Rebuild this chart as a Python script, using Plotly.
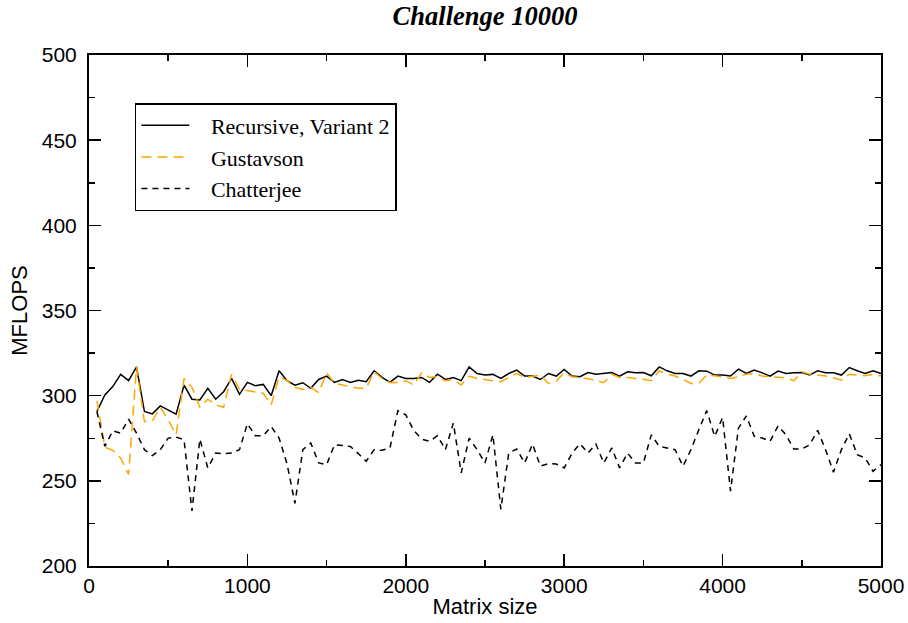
import plotly.graph_objects as go

sizes = list(range(50, 5001, 50))

recursive_v2 = [
    290.7, 300.4, 305.3, 312.5, 308.8, 316.9, 290.7, 289.3, 294.0, 291.6,
    289.1, 306.2, 297.9, 297.5, 304.3, 297.9, 302.3, 310.1, 300.8, 307.8,
    305.8, 306.6, 300.0, 314.6, 308.8, 306.2, 307.6, 304.3, 309.5, 311.5,
    307.8, 309.5, 307.8, 309.1, 308.2, 314.6, 310.7, 307.8, 311.5, 310.1,
    310.1, 310.7, 307.8, 312.6, 309.5, 310.7, 308.8, 316.9, 313.0, 312.1,
    312.5, 310.1, 313.0, 315.0, 311.5, 311.5, 309.5, 313.0, 311.5, 315.4,
    311.5, 311.1, 313.6, 312.6, 313.0, 313.6, 311.5, 314.0, 313.4, 313.6,
    311.7, 316.9, 314.6, 313.0, 313.0, 311.5, 314.6, 314.4, 312.1, 312.1,
    311.5, 315.6, 313.0, 315.0, 313.4, 311.5, 314.4, 313.0, 313.4, 313.6,
    312.1, 314.6, 313.4, 313.4, 312.1, 316.5, 314.6, 313.0, 314.6, 313.0,
]

gustavson = [
    297.0, 269.8, 267.9, 263.4, 253.7, 316.9, 284.8, 285.4, 293.2, 285.8,
    277.0, 310.1, 304.9, 293.2, 297.9, 294.6, 293.2, 312.6, 303.7, 302.9,
    301.8, 301.4, 294.6, 311.0, 308.8, 304.9, 303.7, 304.9, 301.8, 313.4,
    307.2, 306.2, 305.3, 304.3, 304.3, 314.0, 310.1, 307.8, 307.8, 308.8,
    306.2, 313.4, 310.7, 311.1, 308.8, 309.5, 306.2, 311.5, 310.1, 309.5,
    309.1, 308.2, 310.7, 313.0, 310.7, 311.5, 312.1, 307.2, 308.6, 313.4,
    311.1, 310.7, 310.1, 309.1, 307.6, 312.6, 310.7, 310.7, 310.1, 309.7,
    308.8, 314.6, 312.6, 311.5, 309.5, 307.2, 307.2, 312.1, 311.7, 310.7,
    310.1, 311.1, 312.6, 313.0, 311.5, 311.1, 310.7, 310.5, 308.8, 314.0,
    312.6, 312.1, 311.5, 310.5, 309.1, 312.6, 312.1, 311.7, 312.6, 311.5,
]

chatterjee = [
    290.7, 270.2, 279.4, 278.0, 286.2, 278.0, 268.3, 264.8, 268.3, 275.1,
    275.7, 274.1, 232.3, 274.5, 257.6, 266.3, 266.0, 266.3, 268.3, 283.5,
    276.5, 276.5, 281.9, 275.1, 260.0, 236.8, 268.3, 272.2, 260.5, 259.5,
    271.2, 270.6, 270.2, 266.0, 261.5, 268.3, 267.9, 269.3, 291.2, 288.7,
    279.6, 274.5, 273.2, 276.5, 268.3, 283.9, 254.7, 275.1, 268.3, 260.5,
    277.0, 233.3, 266.3, 268.7, 260.5, 271.6, 258.6, 260.1, 259.9, 257.6,
    266.3, 271.8, 266.3, 271.6, 260.5, 269.3, 257.6, 266.3, 260.5, 260.5,
    277.0, 270.2, 269.3, 268.3, 258.6, 268.3, 280.0, 291.2, 276.1, 287.2,
    244.0, 280.9, 288.1, 276.1, 275.1, 273.2, 282.3, 277.0, 268.7, 268.7,
    271.2, 279.6, 268.3, 255.1, 268.3, 277.6, 265.4, 263.4, 255.6, 259.5,
]

series_names = ["Recursive, Variant 2", "Gustavson", "Chatterjee"]
x_ticks = [0, 1000, 2000, 3000, 4000, 5000]
y_ticks = [200, 250, 300, 350, 400, 450, 500]

pad = "&nbsp;&nbsp;&nbsp;"

fig = go.Figure()
fig.add_trace(go.Scatter(x=sizes, y=recursive_v2, mode="lines",
                         name=pad + series_names[0],
                         line=dict(color="black", width=1.5)))
fig.add_trace(go.Scatter(x=sizes, y=gustavson, mode="lines",
                         name=pad + series_names[1],
                         line=dict(color="#FFA500", width=1.5, dash="10px,6px")))
fig.add_trace(go.Scatter(x=sizes, y=chatterjee, mode="lines",
                         name=pad + series_names[2],
                         line=dict(color="black", width=1.5, dash="6px,5px")))

sans = "Liberation Sans, Arial, sans-serif"
serif = "Liberation Serif, Times New Roman, serif"
tick_font = dict(family=sans, size=21, color="black")
title_font = dict(family=sans, size=22, color="black")

fig.update_layout(
    width=908, height=623,
    margin=dict(l=89, r=27, t=55, b=57, autoexpand=False),
    paper_bgcolor="white", plot_bgcolor="white",
    hovermode=False,
    title=dict(text="<b><i>Challenge 10000</i></b>", x=0.5, xref="paper",
               xanchor="center", yref="container", y=0.975, yanchor="middle",
               font=dict(family=serif, size=26.5, color="black")),
    showlegend=True,
    legend=dict(x=0.058, y=0.906, xanchor="left", yanchor="top",
                bgcolor="white", bordercolor="black", borderwidth=1.5,
                font=dict(family=serif, size=22, color="black"),
                itemwidth=48, tracegroupgap=0),
    xaxis=dict(range=[0, 5000], tickvals=x_ticks, ticks="inside", ticklen=12,
               tickwidth=1.5, tickcolor="black", showline=True, linewidth=2,
               linecolor="black", mirror="ticks", showgrid=False, zeroline=False,
               tickfont=tick_font, automargin=False,
               minor=dict(dtick=500, ticks="inside", ticklen=6, tickwidth=1.5,
                          tickcolor="black", showgrid=False),
               title=dict(text="Matrix size", font=title_font, standoff=2)),
    yaxis=dict(range=[200, 500], tickvals=y_ticks, ticks="inside", ticklen=12,
               tickwidth=1.5, tickcolor="black", showline=True, linewidth=2,
               linecolor="black", mirror="ticks", showgrid=False, zeroline=False,
               tickfont=tick_font, ticklabelstandoff=6, automargin=False,
               minor=dict(dtick=25, ticks="inside", ticklen=6, tickwidth=1.5,
                          tickcolor="black", showgrid=False),
               title=dict(text="MFLOPS", font=title_font, standoff=8)),
)

fig.write_html("out.html",
               config={"displayModeBar": False, "staticPlot": True},
               post_script="document.body.style.margin='0';document.body.style.overflow='hidden';")
